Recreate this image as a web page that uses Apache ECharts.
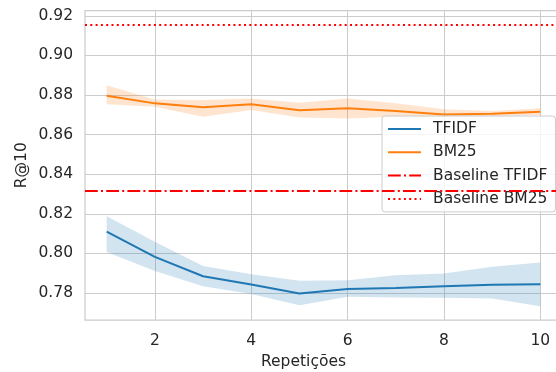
<!DOCTYPE html>
<html>
<head>
<meta charset="utf-8">
<script src="https://cdn.jsdelivr.net/npm/echarts@6/dist/echarts.min.js"></script>
<style>html,body{margin:0;padding:0;background:#fff}#c{width:556px;height:372px}</style>
</head>
<body>
<div id="c"></div>
<script>
const repeticoes = [1, 2, 3, 4, 5, 6, 7, 8, 9, 10];
const tfidfMean = [0.8110, 0.7983, 0.7885, 0.7843, 0.7798, 0.7821, 0.7826, 0.7835, 0.7842, 0.7845];
const tfidfLow  = [0.8008, 0.7911, 0.7835, 0.7795, 0.7739, 0.7781, 0.7778, 0.7776, 0.7773, 0.7734];
const tfidfHigh = [0.8188, 0.8059, 0.7937, 0.7895, 0.7862, 0.7865, 0.7890, 0.7899, 0.7933, 0.7955];
const bm25Mean = [0.8797, 0.8758, 0.8738, 0.8753, 0.8723, 0.8733, 0.8719, 0.8702, 0.8706, 0.8716];
const bm25Low  = [0.8753, 0.8741, 0.8690, 0.8724, 0.8687, 0.8682, 0.8690, 0.8690, 0.8694, 0.8699];
const bm25High = [0.8850, 0.8778, 0.8775, 0.8783, 0.8761, 0.8782, 0.8758, 0.8728, 0.8719, 0.8733];
const baselineTfidf = 0.8316;
const baselineBm25 = 0.9156;
const xTicks = [2, 4, 6, 8, 10];
const yTicks = [0.78, 0.80, 0.82, 0.84, 0.86, 0.88, 0.90, 0.92];

const pairs = (ys) => repeticoes.map((x, i) => [x, ys[i]]);

const FONT = 'DejaVu Sans';
const TXT = '#262626';
const GRID = '#cccccc';
const FS = 15.5;

function band(name, lo, hi, color) {
  const data = repeticoes.map((x, i) => [x, lo[i], hi[i]]);
  return {
    name: name, type: 'custom', silent: true, z: 1,
    data: data,
    encode: { x: 0, y: [1, 2] },
    renderItem: function (params, api) {
      if (params.dataIndex !== 0) return null;
      const upper = data.map(d => api.coord([d[0], d[2]]));
      const lower = data.map(d => api.coord([d[0], d[1]])).reverse();
      return {
        type: 'polygon',
        shape: { points: upper.concat(lower) },
        style: { fill: color, opacity: 0.2, stroke: 'none' }
      };
    }
  };
}

const chart = echarts.init(document.getElementById('c'), null, { renderer: 'canvas' });
chart.setOption({
  animation: false,
  backgroundColor: '#ffffff',
  textStyle: { fontFamily: FONT, color: TXT },
  grid: { left: 85, width: 477, top: 10.5, height: 309.5, show: true, borderColor: GRID, borderWidth: 1.25,
    containLabel: false, outerBoundsMode: 'none' },
  xAxis: {
    type: 'value', min: 0.55, max: 10.45,
    name: 'Repetições', nameLocation: 'middle', nameGap: 33,
    nameTextStyle: { fontFamily: FONT, fontSize: FS, color: TXT, padding: [0, 40, 0, 0] },
    axisLine: { show: false },
    axisTick: { show: false, customValues: xTicks },
    axisLabel: { customValues: xTicks, fontFamily: FONT, fontSize: FS, color: TXT, margin: 13 },
    splitLine: { show: true, lineStyle: { color: GRID, width: 1 } }
  },
  yAxis: {
    type: 'value', min: 0.7664, max: 0.9227,
    name: 'R@10', nameLocation: 'middle', nameGap: 55, nameMoveOverlap: false,
    nameTextStyle: { fontFamily: FONT, fontSize: FS, color: TXT },
    axisLine: { show: false },
    axisTick: { show: false, customValues: yTicks },
    axisLabel: { customValues: yTicks, fontFamily: FONT, fontSize: FS, color: TXT, margin: 12,
      formatter: (v) => v.toFixed(2) },
    splitLine: { show: true, lineStyle: { color: GRID, width: 1 } }
  },
  legend: {
    orient: 'vertical', left: 382, top: 116,
    data: ['TFIDF', 'BM25', 'Baseline TFIDF', 'Baseline BM25'],
    itemWidth: 33, itemHeight: 15, itemGap: 7.3,
    padding: [5, 8, 5, 5],
    itemStyle: { opacity: 0 },
    backgroundColor: 'rgba(255,255,255,0.8)', borderColor: GRID, borderWidth: 1, borderRadius: 3,
    textStyle: { fontFamily: FONT, fontSize: FS, color: TXT, padding: [0, 0, 0, 7] }
  },
  series: [
    band('TFIDF band', tfidfLow, tfidfHigh, '#1f77b4'),
    { name: 'TFIDF', type: 'line', data: pairs(tfidfMean), symbol: 'none',
      lineStyle: { color: '#1f77b4', width: 2 }, itemStyle: { color: '#1f77b4' }, z: 3 },
    band('BM25 band', bm25Low, bm25High, '#ff7f0e'),
    { name: 'BM25', type: 'line', data: pairs(bm25Mean), symbol: 'none',
      lineStyle: { color: '#ff7f0e', width: 2 }, itemStyle: { color: '#ff7f0e' }, z: 3 },
    { name: 'Baseline TFIDF', type: 'line', data: [], symbol: 'none',
      lineStyle: { color: '#ff0000', width: 2, type: [12.8, 3.2, 2, 3.2] }, itemStyle: { color: '#ff0000' }, z: 4,
      markLine: { silent: true, precision: 6, symbol: ['none', 'none'], label: { show: false },
        lineStyle: { color: '#ff0000', width: 2, type: [12.8, 3.2, 2, 3.2] },
        emphasis: { disabled: true }, data: [{ yAxis: baselineTfidf }] } },
    { name: 'Baseline BM25', type: 'line', data: [], symbol: 'none',
      lineStyle: { color: '#ff0000', width: 2, type: [2, 3.3] }, itemStyle: { color: '#ff0000' }, z: 4,
      markLine: { silent: true, precision: 6, symbol: ['none', 'none'], label: { show: false },
        lineStyle: { color: '#ff0000', width: 2, type: [2, 3.3] },
        emphasis: { disabled: true }, data: [{ yAxis: baselineBm25 }] } }
  ]
});
</script>
</body>
</html>
